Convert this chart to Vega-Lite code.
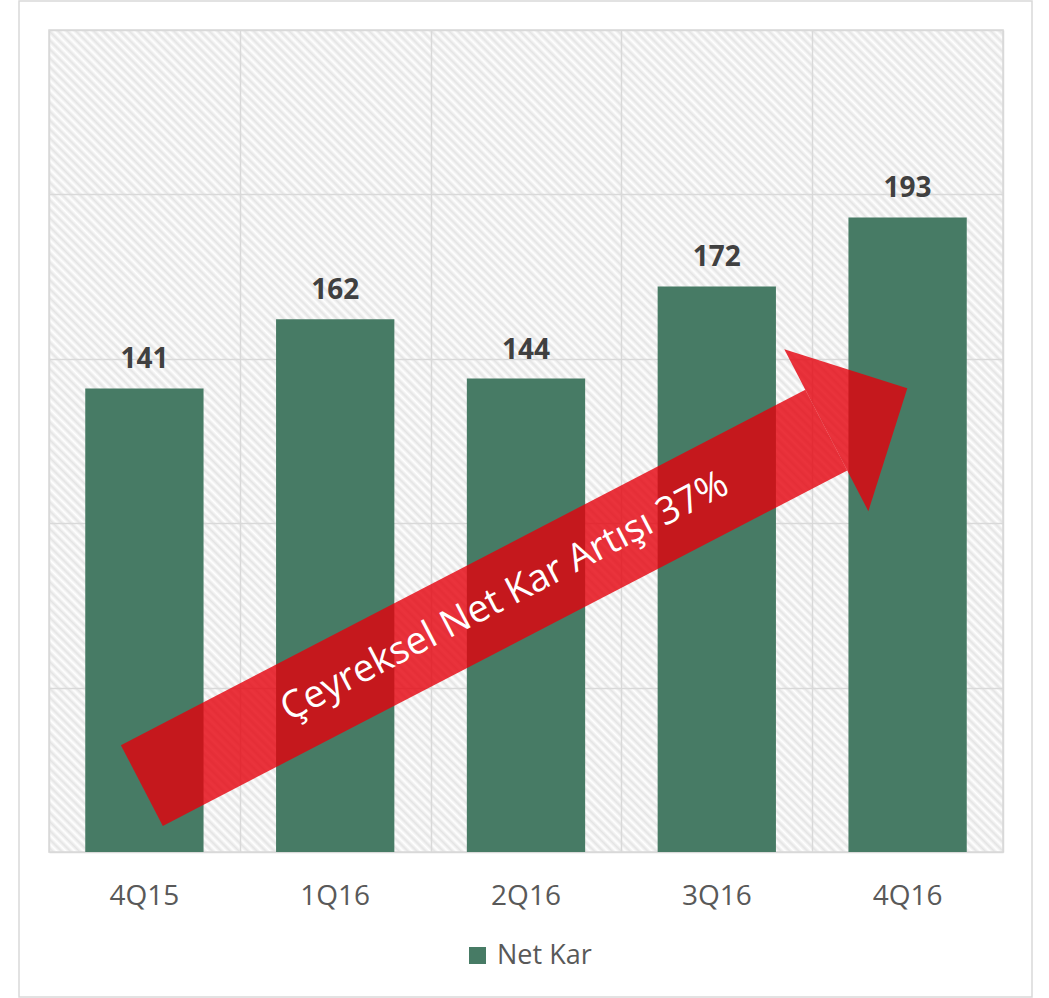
{
  "$schema": "https://vega.github.io/schema/vega-lite/v6.json",
  "width": 954,
  "height": 822,
  "autosize": "none",
  "padding": {"left": 49, "top": 30, "right": 46, "bottom": 146},
  "background": "#ffffff",
  "config": {
    "view": {"stroke": "#d9d9d9", "strokeWidth": 1.5, "fill": {"gradient": "linear", "x1": 0, "y1": 1, "x2": 1.0683, "y2": 0.0791, "stops": [
{"offset":0,"color":"#fff"},{"offset":0.0025,"color":"#e4e4e4"},{"offset":0.005,"color":"#fff"},{"offset":0.0075,"color":"#e4e4e4"},
{"offset":0.01,"color":"#fff"},{"offset":0.0125,"color":"#e4e4e4"},{"offset":0.015,"color":"#fff"},{"offset":0.0175,"color":"#e4e4e4"},
{"offset":0.02,"color":"#fff"},{"offset":0.0225,"color":"#e4e4e4"},{"offset":0.025,"color":"#fff"},{"offset":0.0275,"color":"#e4e4e4"},
{"offset":0.03,"color":"#fff"},{"offset":0.0325,"color":"#e4e4e4"},{"offset":0.035,"color":"#fff"},{"offset":0.0375,"color":"#e4e4e4"},
{"offset":0.04,"color":"#fff"},{"offset":0.0425,"color":"#e4e4e4"},{"offset":0.045,"color":"#fff"},{"offset":0.0475,"color":"#e4e4e4"},
{"offset":0.05,"color":"#fff"},{"offset":0.0525,"color":"#e4e4e4"},{"offset":0.055,"color":"#fff"},{"offset":0.0575,"color":"#e4e4e4"},
{"offset":0.06,"color":"#fff"},{"offset":0.0625,"color":"#e4e4e4"},{"offset":0.065,"color":"#fff"},{"offset":0.0675,"color":"#e4e4e4"},
{"offset":0.07,"color":"#fff"},{"offset":0.0725,"color":"#e4e4e4"},{"offset":0.075,"color":"#fff"},{"offset":0.0775,"color":"#e4e4e4"},
{"offset":0.08,"color":"#fff"},{"offset":0.0825,"color":"#e4e4e4"},{"offset":0.085,"color":"#fff"},{"offset":0.0875,"color":"#e4e4e4"},
{"offset":0.09,"color":"#fff"},{"offset":0.0925,"color":"#e4e4e4"},{"offset":0.095,"color":"#fff"},{"offset":0.0975,"color":"#e4e4e4"},
{"offset":0.10,"color":"#fff"},{"offset":0.1025,"color":"#e4e4e4"},{"offset":0.105,"color":"#fff"},{"offset":0.1075,"color":"#e4e4e4"},
{"offset":0.11,"color":"#fff"},{"offset":0.1125,"color":"#e4e4e4"},{"offset":0.115,"color":"#fff"},{"offset":0.1175,"color":"#e4e4e4"},
{"offset":0.12,"color":"#fff"},{"offset":0.1225,"color":"#e4e4e4"},{"offset":0.125,"color":"#fff"},{"offset":0.1275,"color":"#e4e4e4"},
{"offset":0.13,"color":"#fff"},{"offset":0.1325,"color":"#e4e4e4"},{"offset":0.135,"color":"#fff"},{"offset":0.1375,"color":"#e4e4e4"},
{"offset":0.14,"color":"#fff"},{"offset":0.1425,"color":"#e4e4e4"},{"offset":0.145,"color":"#fff"},{"offset":0.1475,"color":"#e4e4e4"},
{"offset":0.15,"color":"#fff"},{"offset":0.1525,"color":"#e4e4e4"},{"offset":0.155,"color":"#fff"},{"offset":0.1575,"color":"#e4e4e4"},
{"offset":0.16,"color":"#fff"},{"offset":0.1625,"color":"#e4e4e4"},{"offset":0.165,"color":"#fff"},{"offset":0.1675,"color":"#e4e4e4"},
{"offset":0.17,"color":"#fff"},{"offset":0.1725,"color":"#e4e4e4"},{"offset":0.175,"color":"#fff"},{"offset":0.1775,"color":"#e4e4e4"},
{"offset":0.18,"color":"#fff"},{"offset":0.1825,"color":"#e4e4e4"},{"offset":0.185,"color":"#fff"},{"offset":0.1875,"color":"#e4e4e4"},
{"offset":0.19,"color":"#fff"},{"offset":0.1925,"color":"#e4e4e4"},{"offset":0.195,"color":"#fff"},{"offset":0.1975,"color":"#e4e4e4"},
{"offset":0.20,"color":"#fff"},{"offset":0.2025,"color":"#e4e4e4"},{"offset":0.205,"color":"#fff"},{"offset":0.2075,"color":"#e4e4e4"},
{"offset":0.21,"color":"#fff"},{"offset":0.2125,"color":"#e4e4e4"},{"offset":0.215,"color":"#fff"},{"offset":0.2175,"color":"#e4e4e4"},
{"offset":0.22,"color":"#fff"},{"offset":0.2225,"color":"#e4e4e4"},{"offset":0.225,"color":"#fff"},{"offset":0.2275,"color":"#e4e4e4"},
{"offset":0.23,"color":"#fff"},{"offset":0.2325,"color":"#e4e4e4"},{"offset":0.235,"color":"#fff"},{"offset":0.2375,"color":"#e4e4e4"},
{"offset":0.24,"color":"#fff"},{"offset":0.2425,"color":"#e4e4e4"},{"offset":0.245,"color":"#fff"},{"offset":0.2475,"color":"#e4e4e4"},
{"offset":0.25,"color":"#fff"},{"offset":0.2525,"color":"#e4e4e4"},{"offset":0.255,"color":"#fff"},{"offset":0.2575,"color":"#e4e4e4"},
{"offset":0.26,"color":"#fff"},{"offset":0.2625,"color":"#e4e4e4"},{"offset":0.265,"color":"#fff"},{"offset":0.2675,"color":"#e4e4e4"},
{"offset":0.27,"color":"#fff"},{"offset":0.2725,"color":"#e4e4e4"},{"offset":0.275,"color":"#fff"},{"offset":0.2775,"color":"#e4e4e4"},
{"offset":0.28,"color":"#fff"},{"offset":0.2825,"color":"#e4e4e4"},{"offset":0.285,"color":"#fff"},{"offset":0.2875,"color":"#e4e4e4"},
{"offset":0.29,"color":"#fff"},{"offset":0.2925,"color":"#e4e4e4"},{"offset":0.295,"color":"#fff"},{"offset":0.2975,"color":"#e4e4e4"},
{"offset":0.30,"color":"#fff"},{"offset":0.3025,"color":"#e4e4e4"},{"offset":0.305,"color":"#fff"},{"offset":0.3075,"color":"#e4e4e4"},
{"offset":0.31,"color":"#fff"},{"offset":0.3125,"color":"#e4e4e4"},{"offset":0.315,"color":"#fff"},{"offset":0.3175,"color":"#e4e4e4"},
{"offset":0.32,"color":"#fff"},{"offset":0.3225,"color":"#e4e4e4"},{"offset":0.325,"color":"#fff"},{"offset":0.3275,"color":"#e4e4e4"},
{"offset":0.33,"color":"#fff"},{"offset":0.3325,"color":"#e4e4e4"},{"offset":0.335,"color":"#fff"},{"offset":0.3375,"color":"#e4e4e4"},
{"offset":0.34,"color":"#fff"},{"offset":0.3425,"color":"#e4e4e4"},{"offset":0.345,"color":"#fff"},{"offset":0.3475,"color":"#e4e4e4"},
{"offset":0.35,"color":"#fff"},{"offset":0.3525,"color":"#e4e4e4"},{"offset":0.355,"color":"#fff"},{"offset":0.3575,"color":"#e4e4e4"},
{"offset":0.36,"color":"#fff"},{"offset":0.3625,"color":"#e4e4e4"},{"offset":0.365,"color":"#fff"},{"offset":0.3675,"color":"#e4e4e4"},
{"offset":0.37,"color":"#fff"},{"offset":0.3725,"color":"#e4e4e4"},{"offset":0.375,"color":"#fff"},{"offset":0.3775,"color":"#e4e4e4"},
{"offset":0.38,"color":"#fff"},{"offset":0.3825,"color":"#e4e4e4"},{"offset":0.385,"color":"#fff"},{"offset":0.3875,"color":"#e4e4e4"},
{"offset":0.39,"color":"#fff"},{"offset":0.3925,"color":"#e4e4e4"},{"offset":0.395,"color":"#fff"},{"offset":0.3975,"color":"#e4e4e4"},
{"offset":0.40,"color":"#fff"},{"offset":0.4025,"color":"#e4e4e4"},{"offset":0.405,"color":"#fff"},{"offset":0.4075,"color":"#e4e4e4"},
{"offset":0.41,"color":"#fff"},{"offset":0.4125,"color":"#e4e4e4"},{"offset":0.415,"color":"#fff"},{"offset":0.4175,"color":"#e4e4e4"},
{"offset":0.42,"color":"#fff"},{"offset":0.4225,"color":"#e4e4e4"},{"offset":0.425,"color":"#fff"},{"offset":0.4275,"color":"#e4e4e4"},
{"offset":0.43,"color":"#fff"},{"offset":0.4325,"color":"#e4e4e4"},{"offset":0.435,"color":"#fff"},{"offset":0.4375,"color":"#e4e4e4"},
{"offset":0.44,"color":"#fff"},{"offset":0.4425,"color":"#e4e4e4"},{"offset":0.445,"color":"#fff"},{"offset":0.4475,"color":"#e4e4e4"},
{"offset":0.45,"color":"#fff"},{"offset":0.4525,"color":"#e4e4e4"},{"offset":0.455,"color":"#fff"},{"offset":0.4575,"color":"#e4e4e4"},
{"offset":0.46,"color":"#fff"},{"offset":0.4625,"color":"#e4e4e4"},{"offset":0.465,"color":"#fff"},{"offset":0.4675,"color":"#e4e4e4"},
{"offset":0.47,"color":"#fff"},{"offset":0.4725,"color":"#e4e4e4"},{"offset":0.475,"color":"#fff"},{"offset":0.4775,"color":"#e4e4e4"},
{"offset":0.48,"color":"#fff"},{"offset":0.4825,"color":"#e4e4e4"},{"offset":0.485,"color":"#fff"},{"offset":0.4875,"color":"#e4e4e4"},
{"offset":0.49,"color":"#fff"},{"offset":0.4925,"color":"#e4e4e4"},{"offset":0.495,"color":"#fff"},{"offset":0.4975,"color":"#e4e4e4"},
{"offset":0.50,"color":"#fff"},{"offset":0.5025,"color":"#e4e4e4"},{"offset":0.505,"color":"#fff"},{"offset":0.5075,"color":"#e4e4e4"},
{"offset":0.51,"color":"#fff"},{"offset":0.5125,"color":"#e4e4e4"},{"offset":0.515,"color":"#fff"},{"offset":0.5175,"color":"#e4e4e4"},
{"offset":0.52,"color":"#fff"},{"offset":0.5225,"color":"#e4e4e4"},{"offset":0.525,"color":"#fff"},{"offset":0.5275,"color":"#e4e4e4"},
{"offset":0.53,"color":"#fff"},{"offset":0.5325,"color":"#e4e4e4"},{"offset":0.535,"color":"#fff"},{"offset":0.5375,"color":"#e4e4e4"},
{"offset":0.54,"color":"#fff"},{"offset":0.5425,"color":"#e4e4e4"},{"offset":0.545,"color":"#fff"},{"offset":0.5475,"color":"#e4e4e4"},
{"offset":0.55,"color":"#fff"},{"offset":0.5525,"color":"#e4e4e4"},{"offset":0.555,"color":"#fff"},{"offset":0.5575,"color":"#e4e4e4"},
{"offset":0.56,"color":"#fff"},{"offset":0.5625,"color":"#e4e4e4"},{"offset":0.565,"color":"#fff"},{"offset":0.5675,"color":"#e4e4e4"},
{"offset":0.57,"color":"#fff"},{"offset":0.5725,"color":"#e4e4e4"},{"offset":0.575,"color":"#fff"},{"offset":0.5775,"color":"#e4e4e4"},
{"offset":0.58,"color":"#fff"},{"offset":0.5825,"color":"#e4e4e4"},{"offset":0.585,"color":"#fff"},{"offset":0.5875,"color":"#e4e4e4"},
{"offset":0.59,"color":"#fff"},{"offset":0.5925,"color":"#e4e4e4"},{"offset":0.595,"color":"#fff"},{"offset":0.5975,"color":"#e4e4e4"},
{"offset":0.60,"color":"#fff"},{"offset":0.6025,"color":"#e4e4e4"},{"offset":0.605,"color":"#fff"},{"offset":0.6075,"color":"#e4e4e4"},
{"offset":0.61,"color":"#fff"},{"offset":0.6125,"color":"#e4e4e4"},{"offset":0.615,"color":"#fff"},{"offset":0.6175,"color":"#e4e4e4"},
{"offset":0.62,"color":"#fff"},{"offset":0.6225,"color":"#e4e4e4"},{"offset":0.625,"color":"#fff"},{"offset":0.6275,"color":"#e4e4e4"},
{"offset":0.63,"color":"#fff"},{"offset":0.6325,"color":"#e4e4e4"},{"offset":0.635,"color":"#fff"},{"offset":0.6375,"color":"#e4e4e4"},
{"offset":0.64,"color":"#fff"},{"offset":0.6425,"color":"#e4e4e4"},{"offset":0.645,"color":"#fff"},{"offset":0.6475,"color":"#e4e4e4"},
{"offset":0.65,"color":"#fff"},{"offset":0.6525,"color":"#e4e4e4"},{"offset":0.655,"color":"#fff"},{"offset":0.6575,"color":"#e4e4e4"},
{"offset":0.66,"color":"#fff"},{"offset":0.6625,"color":"#e4e4e4"},{"offset":0.665,"color":"#fff"},{"offset":0.6675,"color":"#e4e4e4"},
{"offset":0.67,"color":"#fff"},{"offset":0.6725,"color":"#e4e4e4"},{"offset":0.675,"color":"#fff"},{"offset":0.6775,"color":"#e4e4e4"},
{"offset":0.68,"color":"#fff"},{"offset":0.6825,"color":"#e4e4e4"},{"offset":0.685,"color":"#fff"},{"offset":0.6875,"color":"#e4e4e4"},
{"offset":0.69,"color":"#fff"},{"offset":0.6925,"color":"#e4e4e4"},{"offset":0.695,"color":"#fff"},{"offset":0.6975,"color":"#e4e4e4"},
{"offset":0.70,"color":"#fff"},{"offset":0.7025,"color":"#e4e4e4"},{"offset":0.705,"color":"#fff"},{"offset":0.7075,"color":"#e4e4e4"},
{"offset":0.71,"color":"#fff"},{"offset":0.7125,"color":"#e4e4e4"},{"offset":0.715,"color":"#fff"},{"offset":0.7175,"color":"#e4e4e4"},
{"offset":0.72,"color":"#fff"},{"offset":0.7225,"color":"#e4e4e4"},{"offset":0.725,"color":"#fff"},{"offset":0.7275,"color":"#e4e4e4"},
{"offset":0.73,"color":"#fff"},{"offset":0.7325,"color":"#e4e4e4"},{"offset":0.735,"color":"#fff"},{"offset":0.7375,"color":"#e4e4e4"},
{"offset":0.74,"color":"#fff"},{"offset":0.7425,"color":"#e4e4e4"},{"offset":0.745,"color":"#fff"},{"offset":0.7475,"color":"#e4e4e4"},
{"offset":0.75,"color":"#fff"},{"offset":0.7525,"color":"#e4e4e4"},{"offset":0.755,"color":"#fff"},{"offset":0.7575,"color":"#e4e4e4"},
{"offset":0.76,"color":"#fff"},{"offset":0.7625,"color":"#e4e4e4"},{"offset":0.765,"color":"#fff"},{"offset":0.7675,"color":"#e4e4e4"},
{"offset":0.77,"color":"#fff"},{"offset":0.7725,"color":"#e4e4e4"},{"offset":0.775,"color":"#fff"},{"offset":0.7775,"color":"#e4e4e4"},
{"offset":0.78,"color":"#fff"},{"offset":0.7825,"color":"#e4e4e4"},{"offset":0.785,"color":"#fff"},{"offset":0.7875,"color":"#e4e4e4"},
{"offset":0.79,"color":"#fff"},{"offset":0.7925,"color":"#e4e4e4"},{"offset":0.795,"color":"#fff"},{"offset":0.7975,"color":"#e4e4e4"},
{"offset":0.80,"color":"#fff"},{"offset":0.8025,"color":"#e4e4e4"},{"offset":0.805,"color":"#fff"},{"offset":0.8075,"color":"#e4e4e4"},
{"offset":0.81,"color":"#fff"},{"offset":0.8125,"color":"#e4e4e4"},{"offset":0.815,"color":"#fff"},{"offset":0.8175,"color":"#e4e4e4"},
{"offset":0.82,"color":"#fff"},{"offset":0.8225,"color":"#e4e4e4"},{"offset":0.825,"color":"#fff"},{"offset":0.8275,"color":"#e4e4e4"},
{"offset":0.83,"color":"#fff"},{"offset":0.8325,"color":"#e4e4e4"},{"offset":0.835,"color":"#fff"},{"offset":0.8375,"color":"#e4e4e4"},
{"offset":0.84,"color":"#fff"},{"offset":0.8425,"color":"#e4e4e4"},{"offset":0.845,"color":"#fff"},{"offset":0.8475,"color":"#e4e4e4"},
{"offset":0.85,"color":"#fff"},{"offset":0.8525,"color":"#e4e4e4"},{"offset":0.855,"color":"#fff"},{"offset":0.8575,"color":"#e4e4e4"},
{"offset":0.86,"color":"#fff"},{"offset":0.8625,"color":"#e4e4e4"},{"offset":0.865,"color":"#fff"},{"offset":0.8675,"color":"#e4e4e4"},
{"offset":0.87,"color":"#fff"},{"offset":0.8725,"color":"#e4e4e4"},{"offset":0.875,"color":"#fff"},{"offset":0.8775,"color":"#e4e4e4"},
{"offset":0.88,"color":"#fff"},{"offset":0.8825,"color":"#e4e4e4"},{"offset":0.885,"color":"#fff"},{"offset":0.8875,"color":"#e4e4e4"},
{"offset":0.89,"color":"#fff"},{"offset":0.8925,"color":"#e4e4e4"},{"offset":0.895,"color":"#fff"},{"offset":0.8975,"color":"#e4e4e4"},
{"offset":0.90,"color":"#fff"},{"offset":0.9025,"color":"#e4e4e4"},{"offset":0.905,"color":"#fff"},{"offset":0.9075,"color":"#e4e4e4"},
{"offset":0.91,"color":"#fff"},{"offset":0.9125,"color":"#e4e4e4"},{"offset":0.915,"color":"#fff"},{"offset":0.9175,"color":"#e4e4e4"},
{"offset":0.92,"color":"#fff"},{"offset":0.9225,"color":"#e4e4e4"},{"offset":0.925,"color":"#fff"},{"offset":0.9275,"color":"#e4e4e4"},
{"offset":0.93,"color":"#fff"},{"offset":0.9325,"color":"#e4e4e4"},{"offset":0.935,"color":"#fff"},{"offset":0.9375,"color":"#e4e4e4"},
{"offset":0.94,"color":"#fff"},{"offset":0.9425,"color":"#e4e4e4"},{"offset":0.945,"color":"#fff"},{"offset":0.9475,"color":"#e4e4e4"},
{"offset":0.95,"color":"#fff"},{"offset":0.9525,"color":"#e4e4e4"},{"offset":0.955,"color":"#fff"},{"offset":0.9575,"color":"#e4e4e4"},
{"offset":0.96,"color":"#fff"},{"offset":0.9625,"color":"#e4e4e4"},{"offset":0.965,"color":"#fff"},{"offset":0.9675,"color":"#e4e4e4"},
{"offset":0.97,"color":"#fff"},{"offset":0.9725,"color":"#e4e4e4"},{"offset":0.975,"color":"#fff"},{"offset":0.9775,"color":"#e4e4e4"},
{"offset":0.98,"color":"#fff"},{"offset":0.9825,"color":"#e4e4e4"},{"offset":0.985,"color":"#fff"},{"offset":0.9875,"color":"#e4e4e4"},
{"offset":0.99,"color":"#fff"},{"offset":0.9925,"color":"#e4e4e4"},{"offset":0.995,"color":"#fff"},{"offset":0.9975,"color":"#e4e4e4"},
{"offset":1,"color":"#fff"}
    ]}},
    "font": "Open Sans"
  },
  "data": {
    "values": [
      {"q": "4Q15", "v": 141},
      {"q": "1Q16", "v": 162},
      {"q": "2Q16", "v": 144},
      {"q": "3Q16", "v": 172},
      {"q": "4Q16", "v": 193}
    ]
  },
  "resolve": {"scale": {"x": "independent"}, "axis": {"x": "independent"}},
  "layer": [
    {
      "encoding": {
        "x": {
          "field": "q", "type": "nominal", "sort": null,
          "scale": {"paddingInner": 0.38, "paddingOuter": 0.19},
          "axis": {"title": null, "orient": "bottom", "domain": false, "ticks": false, "tickSize": 0, "grid": false,
                   "labelFont": "Open Sans", "labelFontSize": 28, "labelColor": "#595959",
                   "labelBaseline": "alphabetic", "labelPadding": 52, "labelAngle": 0}
        },
        "y": {
          "field": "v", "type": "quantitative",
          "scale": {"domain": [0, 250], "nice": false, "zero": true},
          "axis": {"title": null, "values": [0, 50, 100, 150, 200, 250], "labels": false, "ticks": false, "domain": false,
                   "grid": true, "gridColor": "#d9d9d9", "gridWidth": 1.5}
        }
      },
      "layer": [
        {
          "mark": {"type": "bar"},
          "encoding": {
            "color": {
              "datum": "Net Kar", "type": "nominal",
              "scale": {"range": ["#477b65"]},
              "legend": {"title": null, "orient": "none", "legendX": 415, "legendY": 912, "padding": 0,
                         "symbolType": "square", "symbolSize": 289, "symbolStrokeWidth": 0,
                         "labelFont": "Open Sans", "labelFontSize": 27, "labelColor": "#595959", "labelOffset": 6}
            }
          }
        },
        {
          "mark": {"type": "text", "dy": -20, "baseline": "alphabetic", "font": "Open Sans", "fontSize": 28,
                   "fontWeight": "bold", "color": "#404040"},
          "encoding": {"text": {"field": "v", "type": "quantitative"}}
        }
      ]
    },
    {
      "data": {"values": [{"a": 1}]},
      "layer": [
        {
          "mark": {"type": "rect", "fillOpacity": 0, "stroke": "#d9d9d9", "strokeWidth": 1.5},
          "encoding": {
            "x": {"datum": -0.1572, "type": "quantitative", "scale": {"domain": [0, 5], "nice": false, "zero": false},
                  "axis": {"orient": "top", "title": null, "labels": false, "ticks": false, "domain": false,
                           "grid": true, "gridColor": "#d9d9d9", "gridWidth": 1.5, "values": [0, 1, 2, 3, 4, 5]}},
            "x2": {"datum": 5.152},
            "y": {"datum": 258.8, "type": "quantitative", "scale": {"domain": [0, 250]}},
            "y2": {"datum": -44.1}
          }
        },
        {
          "mark": {"type": "rule", "strokeWidth": 91, "strokeCap": "butt", "color": "#e5000b", "opacity": 0.8},
          "encoding": {
            "x": {"datum": 0.4866, "type": "quantitative", "scale": {"domain": [0, 5]}},
            "x2": {"datum": 4.074},
            "y": {"datum": 20.22, "type": "quantitative", "scale": {"domain": [0, 250]}},
            "y2": {"datum": 128.28}
          }
        },
        {
          "mark": {"type": "point", "shape": "M0,-1L1,0L0,1Z", "size": 33306, "angle": 332.57, "filled": true,
                   "fill": "#e5000b", "opacity": 0.8, "strokeWidth": 0},
          "encoding": {
            "x": {"datum": 4.074, "type": "quantitative", "scale": {"domain": [0, 5]}},
            "y": {"datum": 128.28, "type": "quantitative", "scale": {"domain": [0, 250]}}
          }
        },
        {
          "mark": {"type": "text", "text": "Çeyreksel Net Kar Artışı 37%", "angle": 332.57, "align": "center",
                   "baseline": "middle", "font": "Open Sans", "fontSize": 38, "color": "#ffffff"},
          "encoding": {
            "x": {"datum": 2.389, "type": "quantitative", "scale": {"domain": [0, 5]}},
            "y": {"datum": 77.52, "type": "quantitative", "scale": {"domain": [0, 250]}}
          }
        }
      ]
    }
  ]
}
